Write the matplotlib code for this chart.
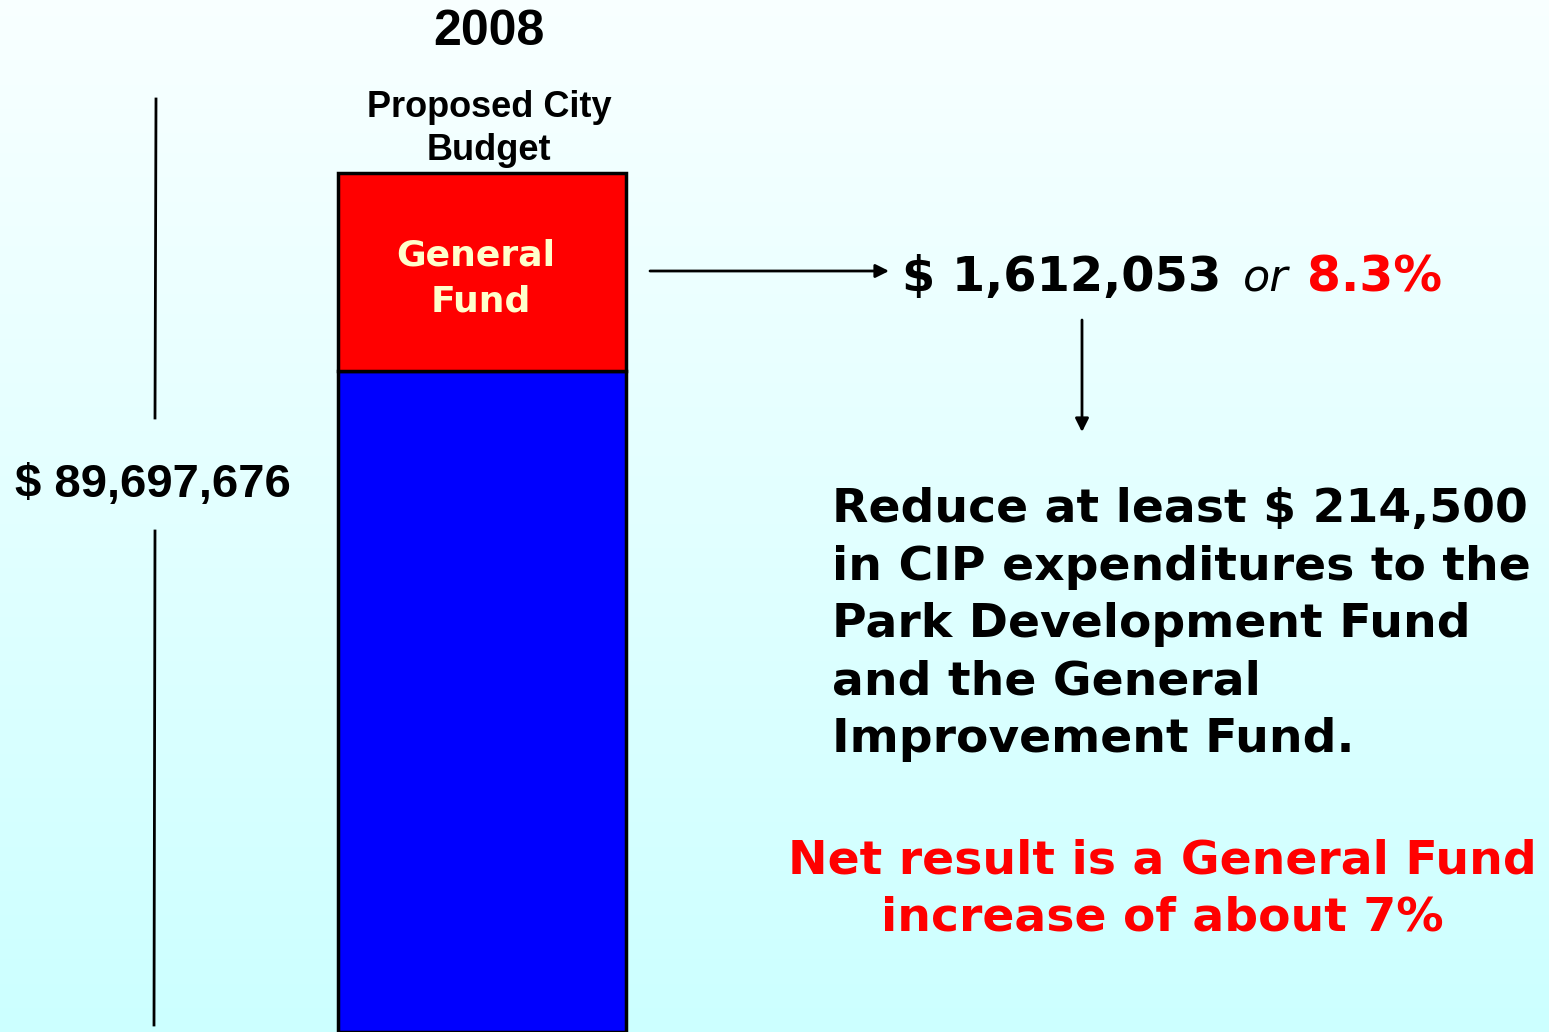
import numpy as np
import matplotlib.pyplot as plt

# data
year = "2008"
segment_names = ["Other funds", "General Fund"]
segment_heights = [77, 23]          # relative share as drawn on the slide
segment_colors = ["#0000FF", "#FF0000"]
total_budget = "$ 89,697,676"
gf_amount = "$ 1,612,053"
gf_pct = "8.3%"
note_lines = ["Reduce at least $ 214,500",
              "in CIP expenditures to the",
              "Park Development Fund",
              "and the General",
              "Improvement Fund."]
result_lines = ["Net result is a General Fund", "increase of about 7%"]

W, H = 1549, 1032
fig = plt.figure(figsize=(W / 100, H / 100), dpi=100)

# background gradient (white -> light cyan)
bg = fig.add_axes([0, 0, 1, 1])
grad = np.linspace(0, 1, 256).reshape(-1, 1)
top = np.array([0.975, 1.0, 1.0])
bot = np.array([0.80, 1.0, 1.0])
img = top[None, None, :] * (1 - grad[:, :, None]) + bot[None, None, :] * grad[:, :, None]
bg.imshow(img, aspect='auto', extent=[0, W, H, 0])
bg.set_xlim(0, W)
bg.set_ylim(H, 0)
bg.axis('off')

# stacked bar
ax = fig.add_axes([338 / W, 0, (626 - 338) / W, (H - 173) / H])
ax.patch.set_alpha(0)
bottom = 0
for h, c in zip(segment_heights, segment_colors):
    ax.bar([year], [h], bottom=bottom, width=1.0, color=c,
           edgecolor='black', linewidth=2.5, clip_on=False)
    bottom += h
ax.set_xlim(-0.5, 0.5)
ax.set_ylim(0, sum(segment_heights))
ax.axis('off')


def px(x, y):
    return x / W, 1 - y / H


lib = 'Liberation Sans'
dv = 'DejaVu Sans'

fig.text(*px(476, 266), "General", ha='center', va='baseline', color='#FFFFCC',
         fontsize=26, fontweight='bold', family=dv)
fig.text(*px(481, 311), "Fund", ha='center', va='baseline', color='#FFFFCC',
         fontsize=26, fontweight='bold', family=dv)

fig.text(*px(489, 45), year, ha='center', va='baseline', fontsize=36,
         fontweight='bold', family=lib)
fig.text(*px(489, 117), "Proposed City", ha='center', va='baseline',
         fontsize=26, fontweight='bold', family=lib)
fig.text(*px(489, 160), "Budget", ha='center', va='baseline',
         fontsize=26, fontweight='bold', family=lib)

# total bracket
bg.plot([156, 155], [99, 418], color='black', lw=2)
bg.plot([155, 154], [531, 1025], color='black', lw=2)
fig.text(*px(153, 497), total_budget, ha='center', va='baseline',
         fontsize=34, fontweight='bold', family=lib)

# arrows
bg.annotate("", xy=(889, 271), xytext=(650, 271),
            arrowprops=dict(arrowstyle='-|>', color='black', lw=2,
                            mutation_scale=20, shrinkA=0, shrinkB=0))
bg.annotate("", xy=(1082, 432), xytext=(1082, 320),
            arrowprops=dict(arrowstyle='-|>', color='black', lw=2,
                            mutation_scale=20, shrinkA=0, shrinkB=0))

fig.text(*px(902, 291), gf_amount, ha='left', va='baseline', fontsize=34.5,
         fontweight='bold', family=dv)
fig.text(*px(1243, 291), "or", ha='left', va='baseline', fontsize=32,
         style='italic', family=dv)
fig.text(*px(1307, 291), gf_pct, ha='left', va='baseline', fontsize=35,
         fontweight='bold', family=dv, color='#FF0000')

for i, line in enumerate(note_lines):
    fig.text(*px(832, 522 + i * 57.5), line, ha='left', va='baseline',
             fontsize=34, fontweight='bold', family=dv)

for i, line in enumerate(result_lines):
    fig.text(*px(1162, 873 + i * 57.5), line, ha='center', va='baseline',
             fontsize=34, fontweight='bold', family=dv, color='#FF0000')

fig.savefig('out.png', dpi=100)
